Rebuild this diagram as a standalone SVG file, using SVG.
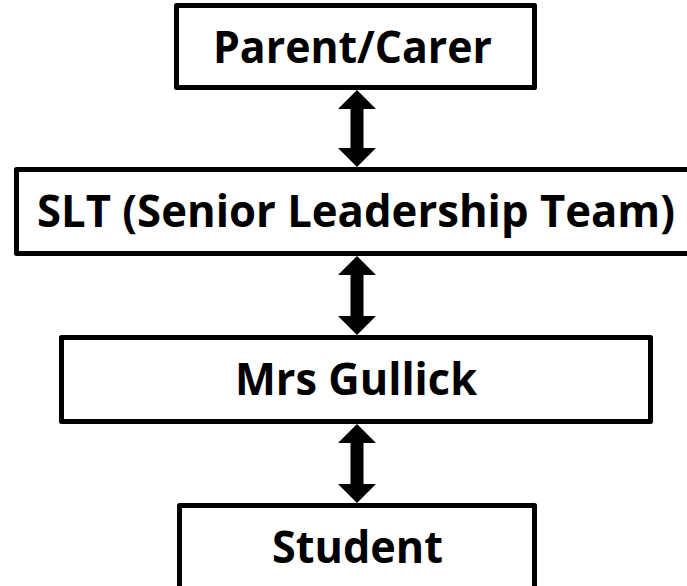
<svg xmlns="http://www.w3.org/2000/svg" width="687" height="586" viewBox="0 0 687 586">
<style>
.box{fill:#fff;stroke:#000;stroke-width:5;stroke-linejoin:round}
.lbl{font-family:"Open Sans","Noto Sans","Liberation Sans",sans-serif;font-weight:bold;font-size:45px;fill:#000}
.arr{fill:#000}
</style>
<rect x="0" y="0" width="687" height="586" fill="#fff"/>
<g id="connectors">
<path class="arr" d="M357,90 L376,109 L363.5,109 L363.5,148 L376,148 L357,167 L338,148 L350.5,148 L350.5,109 L338,109 Z"/>
<path class="arr" d="M357,256 L376,275 L363.5,275 L363.5,316 L376,316 L357,335 L338,316 L350.5,316 L350.5,275 L338,275 Z"/>
<path class="arr" d="M357,424 L376,443 L363.5,443 L363.5,484 L376,484 L357,503 L338,484 L350.5,484 L350.5,443 L338,443 Z"/>
</g>
<g id="parent">
<rect class="box" x="176.5" y="5.5" width="358" height="82"/>
<text class="lbl" x="213" y="63" textLength="279" lengthAdjust="spacingAndGlyphs">Parent/Carer</text>
</g>
<g id="slt">
<rect class="box" x="16.5" y="169.5" width="700" height="84"/>
<text class="lbl" x="37" y="227" textLength="638" lengthAdjust="spacingAndGlyphs">SLT (Senior Leadership Team)</text>
</g>
<g id="gullick">
<rect class="box" x="61.5" y="337.5" width="589" height="84"/>
<text class="lbl" x="235" y="395" textLength="242" lengthAdjust="spacingAndGlyphs">Mrs Gullick</text>
</g>
<g id="student">
<rect class="box" x="179.5" y="505.5" width="355" height="100"/>
<text class="lbl" x="272" y="563" textLength="171" lengthAdjust="spacingAndGlyphs">Student</text>
</g>
</svg>
